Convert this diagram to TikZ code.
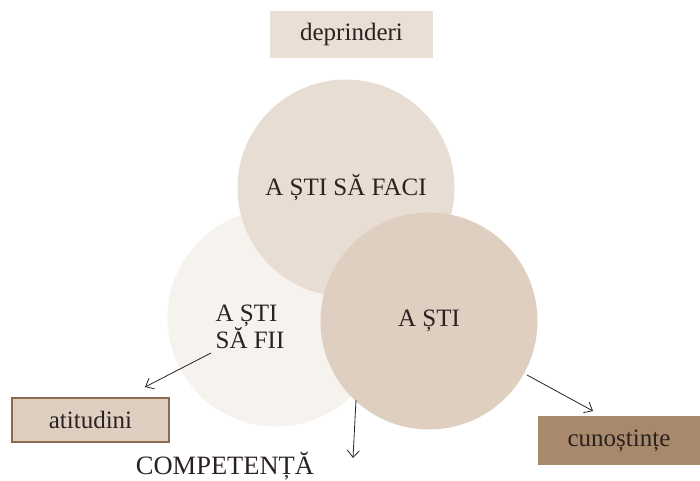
\documentclass[tikz,border=0pt]{standalone}
\usepackage{fontspec}
\setmainfont{Liberation Serif}
\usetikzlibrary{arrows.meta}
\definecolor{ctop}{HTML}{E8DDD2}
\definecolor{cleft}{HTML}{F6F2ED}
\definecolor{cright}{HTML}{DFCFC0}
\definecolor{cbox}{HTML}{E9DFD4}
\definecolor{cborder}{HTML}{8B6B4F}
\definecolor{cdark}{HTML}{A8896C}
\definecolor{ctext}{HTML}{2A2220}
\tikzset{
  circ/.style={circle, minimum size=217pt, inner sep=0pt, text=ctext, font=\fontsize{25}{27}\selectfont},
  lbl/.style={text=ctext, font=\fontsize{25}{27}\selectfont, inner sep=0pt},
  arr/.style={draw=ctext, line width=0.8pt, -{Straight Barb[length=7pt,width=12pt]}},
}
\begin{document}
\begin{tikzpicture}[x=1pt,y=-1pt]
\useasboundingbox (0,0) rectangle (700,480);
\node[circ, fill=cleft] (fii) at (276,318) {};
\node[circ, fill=ctop] (faci) at (346,188) {A ȘTI SĂ FACI};
\node[circ, fill=cright] (sti) at (429,321) {A ȘTI};
\node[lbl, align=left, font=\fontsize{25}{22}\selectfont] (fiitxt) at (250,327) {A ȘTI\\SĂ FII};
\node[lbl, fill=cbox, minimum width=163pt, minimum height=47pt] (depr) at (351.5,34.5) {deprinderi};
\node[lbl, fill=cright, draw=cborder, line width=2pt, minimum width=157pt, minimum height=44pt] (atit) at (90.5,420) {atitudini};
\node[lbl, fill=cdark, minimum width=162pt, minimum height=49pt] (cuno) at (619,440.5) {cunoștințe};
\node[lbl, font=\fontsize{26.5}{28}\selectfont] (comp) at (225,466) {COMPETENȚĂ};
\coordinate (a1) at (211,353);
\coordinate (a1e) at (145,387);
\coordinate (a2) at (356,400);
\coordinate (a2e) at (353,458);
\coordinate (a3) at (527,375);
\coordinate (a3e) at (593,411);
\draw[arr] (a1) -- (a1e);
\draw[arr] (a2) -- (a2e);
\draw[arr] (a3) -- (a3e);
\end{tikzpicture}
\end{document}
